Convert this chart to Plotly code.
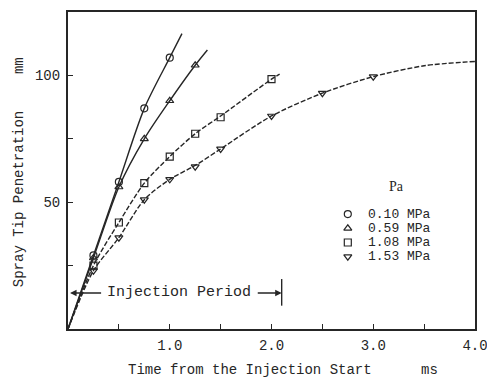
import plotly.graph_objects as go

# Measured spray tip penetration (mm) vs time after injection start (ms)
pressures = ["0.10 MPa", "0.59 MPa", "1.08 MPa", "1.53 MPa"]
symbols = ["circle-open", "triangle-up-open", "square-open", "triangle-down-open"]

t_010 = [0.25, 0.5, 0.75, 1.0]
s_010 = [29, 58, 87, 107]
t_059 = [0.25, 0.5, 0.75, 1.0, 1.25]
s_059 = [28, 56, 75, 90, 104]
t_108 = [0.25, 0.5, 0.75, 1.0, 1.25, 1.5, 2.0]
s_108 = [25, 42, 57.5, 68, 77, 83.5, 98.5]
t_153 = [0.25, 0.5, 0.75, 1.0, 1.25, 1.5, 2.0, 2.5, 3.0]
s_153 = [23, 36, 51, 59, 64, 71, 84, 93, 99.5]

# Faired curves through the measurements (start at origin, end where drawn)
ct_010 = [0, 0.25, 0.5, 0.75, 1.0, 1.12]
cs_010 = [0, 29, 58, 87, 107, 116.5]
ct_059 = [0, 0.25, 0.5, 0.75, 1.0, 1.25, 1.37]
cs_059 = [0, 28, 56, 75, 90, 104, 110]
ct_108 = [0, 0.25, 0.5, 0.75, 1.0, 1.25, 1.5, 2.0, 2.08]
cs_108 = [0, 25, 42, 57.5, 68, 77, 84, 98.5, 100.5]
ct_153 = [0, 0.25, 0.5, 0.75, 1.0, 1.25, 1.5, 2.0, 2.5, 3.0, 3.5, 4.0]
cs_153 = [0, 23, 36, 51, 59, 64.5, 71, 84, 93, 99.5, 103.8, 105.5]

injection_end = 2.1  # ms
injection_level = 14.2  # mm, height of the injection-period marker

x_ticks = [0.5, 1.0, 1.5, 2.0, 2.5, 3.0, 3.5, 4.0]
x_ticktext = ["", "1.0", "", "2.0", "", "3.0", "", "4.0"]
y_ticks = [25, 50, 75, 100]
y_ticktext = ["", "50", "", "100"]

INK = "#262626"
MONO = "Liberation Mono"

series = [
    (t_010, s_010, ct_010, cs_010, "solid"),
    (t_059, s_059, ct_059, cs_059, "solid"),
    (t_108, s_108, ct_108, cs_108, "5px,2px"),
    (t_153, s_153, ct_153, cs_153, "5px,2px"),
]

fig = go.Figure()
for (tx, sy, cx, cy, dash), sym in zip(series, symbols):
    fig.add_trace(go.Scatter(
        x=cx, y=cy, mode="lines", line=dict(color=INK, width=1.4, dash=dash, shape="spline", smoothing=0.8),
        hoverinfo="skip", showlegend=False))
    fig.add_trace(go.Scatter(
        x=tx, y=sy, mode="markers",
        marker=dict(symbol=sym, size=7, color=INK, line=dict(width=1.2, color=INK)),
        showlegend=False))

# Key: symbol column + pressure labels
key_x, key_text_x, key_top, key_gap = 2.75, 2.93, 45.3, 5.6
key_y = [key_top - i * key_gap for i in range(len(pressures))]
fig.add_trace(go.Scatter(
    x=[key_x] * len(pressures), y=key_y, mode="markers",
    marker=dict(symbol=symbols, size=7, color=INK, line=dict(width=1.2, color=INK)),
    hoverinfo="skip", showlegend=False))

annotations = []
for yk, label in zip(key_y, pressures):
    annotations.append(dict(x=key_text_x, y=yk, xref="x", yref="y", text=label, showarrow=False,
                            xanchor="left", yanchor="middle", font=dict(family=MONO, size=13, color=INK)))
annotations.append(dict(x=3.23, y=56, xref="x", yref="y", text="Pa", showarrow=False,
                        font=dict(family="Liberation Serif", size=14, color=INK)))

# Injection period marker
annotations.append(dict(x=1.09, y=injection_level, xref="x", yref="y", text="Injection Period",
                        showarrow=False, font=dict(family=MONO, size=15, color=INK)))
annotations.append(dict(x=0.02, y=injection_level, ax=0.34, ay=injection_level, xref="x", yref="y",
                        axref="x", ayref="y", text="", showarrow=True, arrowhead=2, arrowsize=1,
                        arrowwidth=1.3, arrowcolor=INK))
annotations.append(dict(x=injection_end, y=injection_level, ax=1.85, ay=injection_level, xref="x", yref="y",
                        axref="x", ayref="y", text="", showarrow=True, arrowhead=2, arrowsize=1,
                        arrowwidth=1.3, arrowcolor=INK))

# Axis titles with units set apart
title_font = dict(family=MONO, size=14, color=INK)
annotations.append(dict(x=0.447, y=-0.129, xref="paper", yref="paper", text="Time from the Injection Start",
                        xanchor="center", yanchor="middle", borderpad=0, showarrow=False, font=title_font))
annotations.append(dict(x=0.889, y=-0.129, xref="paper", yref="paper", text="ms",
                        xanchor="center", yanchor="middle", borderpad=0, showarrow=False, font=title_font))
annotations.append(dict(x=-0.120, y=0.41, xref="paper", yref="paper", text="Spray Tip Penetration",
                        xanchor="center", yanchor="middle", textangle=-90, showarrow=False, font=title_font))
annotations.append(dict(x=-0.120, y=0.83, xref="paper", yref="paper", text="mm",
                        xanchor="center", yanchor="middle", textangle=-90, showarrow=False, font=title_font))

fig.update_layout(
    width=487, height=381,
    margin=dict(l=68, r=12, t=12, b=52),
    paper_bgcolor="white", plot_bgcolor="white",
    annotations=annotations,
    shapes=[dict(type="line", xref="x", yref="y", x0=injection_end, x1=injection_end,
                 y0=injection_level - 5, y1=injection_level + 5.5, line=dict(color=INK, width=1.4))],
    xaxis=dict(range=[0, 4], showgrid=False, zeroline=False, showline=True, mirror=True, automargin=False,
               linecolor=INK, linewidth=2, ticks="inside", ticklen=5, tickwidth=1.3, tickcolor=INK,
               tickmode="array", tickvals=x_ticks, ticktext=x_ticktext, ticklabelstandoff=2,
               ticklabeloverflow="allow", tickfont=dict(family=MONO, size=14, color=INK)),
    yaxis=dict(range=[0, 125], showgrid=False, zeroline=False, showline=True, mirror=True, automargin=False,
               linecolor=INK, linewidth=2, ticks="inside", ticklen=5, tickwidth=1.3, tickcolor=INK,
               tickmode="array", tickvals=y_ticks, ticktext=y_ticktext, ticklabelstandoff=3,
               ticklabeloverflow="allow", tickfont=dict(family=MONO, size=14, color=INK)),
)

fig.write_html("out.html")
